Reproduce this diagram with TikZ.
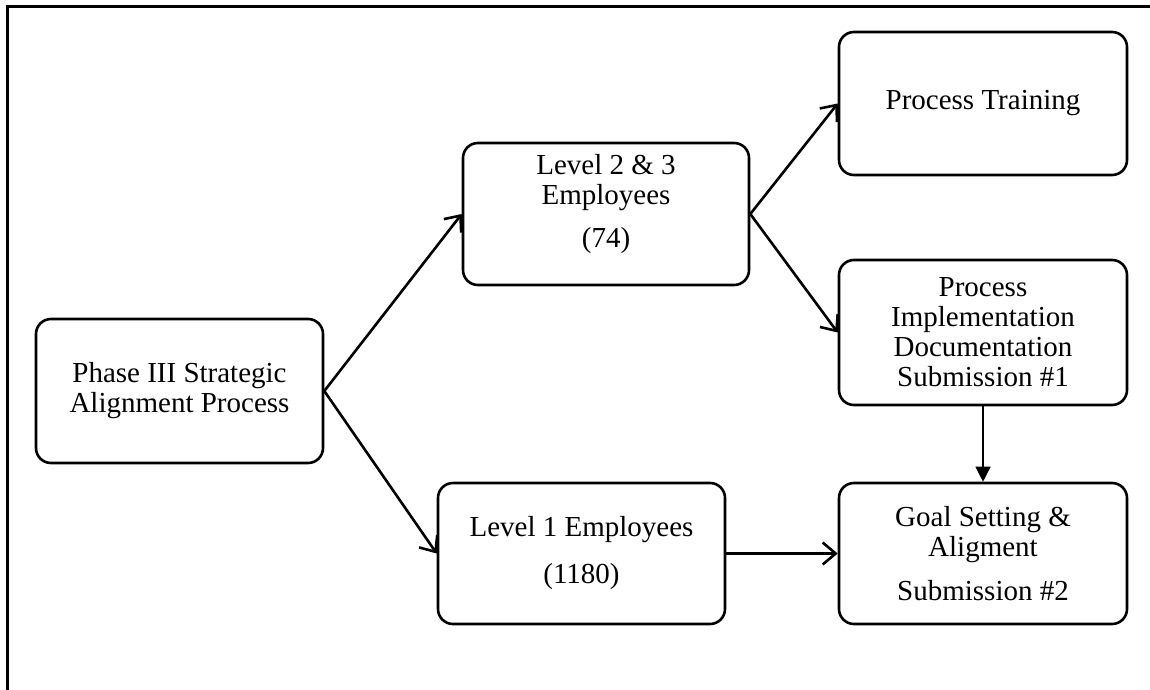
\documentclass[tikz,border=0pt]{standalone}
\usepackage{fontspec}
\setmainfont{Liberation Serif}
\usetikzlibrary{arrows.meta}
\begin{document}
\begin{tikzpicture}[x=1pt,y=-1pt,
  box/.style={draw, line width=2.6pt, rounded corners=15pt, inner sep=0pt},
  txt/.style={align=center, font=\fontsize{29pt}{30pt}\selectfont, inner sep=0pt},
  conn/.style={line width=2.6pt, -{Straight Barb[length=13pt,width=22pt,line width=2.6pt]}},
  thin/.style={line width=1.3pt, -{Triangle[length=15pt,width=15pt]}}]
\useasboundingbox (0,0) rectangle (1150,690);
\coordinate (ftop) at (1150,7);
\coordinate (fcorner) at (7,7);
\coordinate (fbot) at (7,690);
\draw[line width=3pt] (ftop) -- (fcorner) -- (fbot);
% boxes
\node[box, minimum width=287pt, minimum height=144pt, txt] (phase) at (179.5,391) {Phase III Strategic\\Alignment Process};
\node[box, minimum width=286pt, minimum height=142pt] (l23) at (606,214) {};
\node[txt] (l23t) at (606,204) {Level 2 \& 3\\Employees\\[13pt](74)};
\node[box, minimum width=288pt, minimum height=143pt, txt] (train) at (983,103.5) {Process Training};
\node[box, minimum width=288pt, minimum height=145pt, txt] (impl) at (983,332.5) {Process\\Implementation\\Documentation\\Submission \#1};
\node[box, minimum width=287pt, minimum height=141pt, txt] (l1) at (581.5,553.5) {Level 1 Employees\\[17pt](1180)};
\node[box, minimum width=288pt, minimum height=141pt, txt] (goal) at (983,553.5) {Goal Setting \&\\Aligment\\[14pt]Submission \#2};
% connectors
\draw[conn] (phase.east) -- (l23.west);
\draw[conn] (phase.east) -- (l1.west);
\draw[conn] (l23.east) -- (train.west);
\draw[conn] (l23.east) -- (impl.west);
\draw[conn] (l1.east) -- (goal.west);
\draw[thin] (impl.south) -- (goal.north);
\end{tikzpicture}
\end{document}
